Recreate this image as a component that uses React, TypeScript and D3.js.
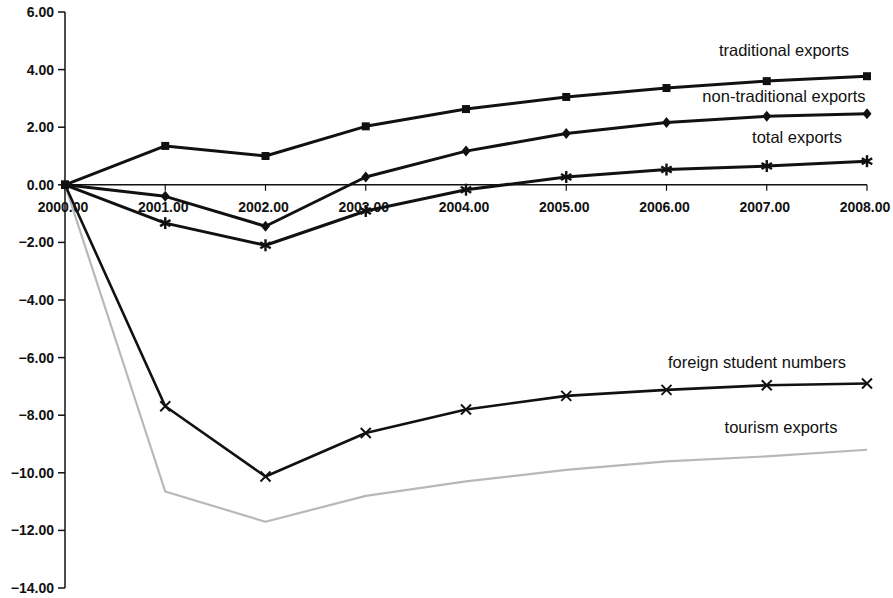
import React from "react";
import * as d3 from "d3";

const years = [2000, 2001, 2002, 2003, 2004, 2005, 2006, 2007, 2008];
const traditional = [0, 1.35, 1.0, 2.03, 2.63, 3.05, 3.36, 3.6, 3.77];
const nonTraditional = [0, -0.4, -1.44, 0.27, 1.17, 1.78, 2.16, 2.38, 2.47];
const totalExports = [0, -1.33, -2.1, -0.91, -0.17, 0.27, 0.53, 0.65, 0.82];
const foreignStudents = [0, -7.69, -10.13, -8.62, -7.8, -7.33, -7.12, -6.96, -6.9];
const tourism = [0, -10.65, -11.7, -10.8, -10.3, -9.9, -9.6, -9.43, -9.2];
const yTicks = [6, 4, 2, 0, -2, -4, -6, -8, -10, -12, -14];

const W = 893;
const H = 598;
const x = d3.scaleLinear().domain([2000, 2008]).range([65, 867]);
const y = d3.scaleLinear().domain([-14, 6]).range([588, 12]);

type Marker = "square" | "diamond" | "asterisk" | "cross" | "none";

const seriesList: { name: string; values: number[]; color: string; width: number; marker: Marker; lx: number; ly: number }[] = [
  { name: "traditional exports", values: traditional, color: "#111", width: 3, marker: "square", lx: 784, ly: 50 },
  { name: "non-traditional exports", values: nonTraditional, color: "#111", width: 3, marker: "diamond", lx: 784, ly: 96 },
  { name: "total exports", values: totalExports, color: "#111", width: 3, marker: "asterisk", lx: 797, ly: 137 },
  { name: "foreign student numbers", values: foreignStudents, color: "#111", width: 2.6, marker: "cross", lx: 757, ly: 362 },
  { name: "tourism exports", values: tourism, color: "#b8b8b8", width: 2.2, marker: "none", lx: 781, ly: 427 },
];

function MarkerShape({ kind, cx, cy, color }: { kind: Marker; cx: number; cy: number; color: string }) {
  if (kind === "square") return <rect x={cx - 4} y={cy - 4} width={8} height={8} fill={color} />;
  if (kind === "diamond") return <path d={`M${cx},${cy - 5.5}L${cx + 4.5},${cy}L${cx},${cy + 5.5}L${cx - 4.5},${cy}Z`} fill={color} />;
  if (kind === "asterisk") {
    const r = 6;
    return (
      <g stroke={color} strokeWidth={2.4}>
        <line x1={cx} y1={cy - r} x2={cx} y2={cy + r} />
        <line x1={cx - r * 0.87} y1={cy - r * 0.5} x2={cx + r * 0.87} y2={cy + r * 0.5} />
        <line x1={cx - r * 0.87} y1={cy + r * 0.5} x2={cx + r * 0.87} y2={cy - r * 0.5} />
      </g>
    );
  }
  if (kind === "cross") {
    const r = 5;
    return (
      <g stroke={color} strokeWidth={2}>
        <line x1={cx - r} y1={cy - r} x2={cx + r} y2={cy + r} />
        <line x1={cx - r} y1={cy + r} x2={cx + r} y2={cy - r} />
      </g>
    );
  }
  return null;
}

export default function App() {
  const line = d3
    .line<number>()
    .x((_, i) => x(years[i]))
    .y((v) => y(v));
  const fmt = d3.format(".2f");
  return (
    <svg width={W} height={H} style={{ position: "absolute", left: 0, top: 0, background: "#fff" }} fontFamily="'Liberation Sans', Arial, sans-serif">
      {/* y axis */}
      <line x1={x(2000)} y1={y(6)} x2={x(2000)} y2={y(-14)} stroke="#111" strokeWidth={1.5} />
      {yTicks.map((t) => (
        <g key={t}>
          <line x1={x(2000) - 7} y1={y(t)} x2={x(2000)} y2={y(t)} stroke="#111" strokeWidth={1.5} />
          <text x={54} y={y(t)} dy="0.35em" textAnchor="end" fontSize={14} fontWeight="bold" fill="#111">
            {fmt(t)}
          </text>
        </g>
      ))}
      {/* x axis */}
      <line x1={x(2000)} y1={y(0)} x2={x(2008)} y2={y(0)} stroke="#111" strokeWidth={1.5} />
      {years.map((yr) => (
        <g key={yr}>
          <line x1={x(yr)} y1={y(0)} x2={x(yr)} y2={y(0) + 6} stroke="#111" strokeWidth={1.2} />
          <text x={x(yr) - 2} y={y(0) + 27} textAnchor="middle" fontSize={14} fontWeight="bold" fill="#111">
            {fmt(yr)}
          </text>
        </g>
      ))}
      {/* series */}
      {seriesList
        .slice()
        .reverse()
        .map((s) => (
          <g key={s.name}>
            <path d={line(s.values) || ""} fill="none" stroke={s.color} strokeWidth={s.width} strokeLinejoin="round" />
            {s.values.map((v, i) => (
              <MarkerShape key={i} kind={i === 0 ? "square" : s.marker} cx={x(years[i])} cy={y(v)} color={s.color === "#b8b8b8" && i === 0 ? "#111" : s.color} />
            ))}
          </g>
        ))}
      {seriesList.map((s) => (
        <text key={s.name} x={s.lx} y={s.ly} dy="0.35em" textAnchor="middle" fontSize={16.5} fill="#111">
          {s.name}
        </text>
      ))}
    </svg>
  );
}
